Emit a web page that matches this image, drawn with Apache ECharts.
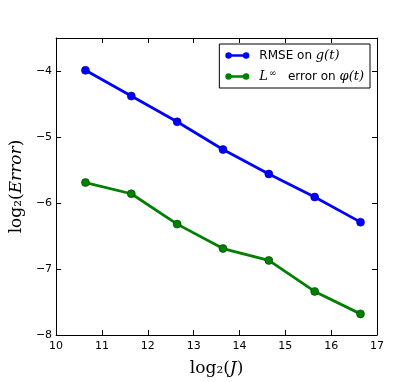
<!DOCTYPE html>
<html><head><meta charset="utf-8">
<script src="https://cdn.jsdelivr.net/npm/echarts@6/dist/echarts.min.js"></script>
<style>html,body{margin:0;padding:0;background:#fff}#c{width:418px;height:382px}</style>
</head><body><div id="c"></div>
<script>
const xValues = [10.64, 11.64, 12.64, 13.64, 14.64, 15.64, 16.64];
const rmseValues = [-3.99, -4.38, -4.77, -5.19, -5.56, -5.91, -6.29];
const linfValues = [-5.69, -5.86, -6.32, -6.69, -6.87, -7.34, -7.68];
const seriesNames = ['rmse', 'linf'];

const chart = echarts.init(document.getElementById('c'), null, {renderer: 'canvas'});
const sans = 'DejaVu Sans';
const serif = 'DejaVu Serif';
const fmtNum = v => (Math.abs(v - Math.round(v)) > 1e-9) ? '' : (v < 0 ? '\u2212' + Math.abs(v) : String(v));
const iconPath = 'path://M0,3.5A3.5,3.5 0 1,1 7,3.5A3.5,3.5 0 1,1 0,3.5Z M19,3.5A3.5,3.5 0 1,1 26,3.5A3.5,3.5 0 1,1 19,3.5Z M3,2.2L23,2.2L23,4.8L3,4.8Z';
const tickStyle = {show: true, inside: true, length: 5, lineStyle: {color: '#000', width: 1}};
const lineStyleAx = {show: true, lineStyle: {color: '#000', width: 1}};

chart.setOption({
  animation: false,
  backgroundColor: '#fff',
  grid: {left: 52, right: 41, top: 38, bottom: 39, containLabel: false},
  xAxis: [{
    type: 'value', min: 10, max: 17, interval: 1,
    axisLine: lineStyleAx, axisTick: tickStyle, splitLine: {show: false},
    axisLabel: {color: '#000', fontFamily: sans, fontSize: 11, margin: 6, formatter: fmtNum},
    name: 'log\u2082({i|J})', nameLocation: 'middle', nameGap: 25,
    nameTextStyle: {color: '#000', fontFamily: serif, fontSize: 17,
      rich: {i: {fontFamily: serif, fontStyle: 'italic', fontSize: 17, color: '#000'}}}
  }, {
    type: 'value', position: 'top', min: 10, max: 17, interval: 1,
    axisLine: lineStyleAx, axisTick: tickStyle, axisLabel: {show: false}, splitLine: {show: false}
  }],
  yAxis: [{
    type: 'value', min: -8, max: -3.5, interval: 1,
    axisLine: lineStyleAx, axisTick: tickStyle, splitLine: {show: false},
    axisLabel: {color: '#000', fontFamily: sans, fontSize: 11, margin: 4, formatter: fmtNum},
    name: 'log\u2082({i|Error})', nameLocation: 'middle', nameGap: 30, nameRotate: 90,
    nameTextStyle: {color: '#000', fontFamily: serif, fontSize: 17,
      rich: {i: {fontFamily: serif, fontStyle: 'italic', fontSize: 17, color: '#000'}}}
  }, {
    type: 'value', position: 'right', min: -8, max: -3.5, interval: 1,
    axisLine: lineStyleAx, axisTick: tickStyle, axisLabel: {show: false}, splitLine: {show: false}
  }],
  legend: {
    orient: 'vertical', right: 48, top: 44,
    backgroundColor: '#fff', borderColor: '#000', borderWidth: 1, borderRadius: 0,
    padding: [5, 6, 5, 6], itemGap: 7, itemWidth: 24, itemHeight: 7,
    data: [
      {name: seriesNames[0], icon: iconPath, itemStyle: {color: '#0000ff', borderWidth: 0}},
      {name: seriesNames[1], icon: iconPath, itemStyle: {color: '#008000', borderWidth: 0}}
    ],
    formatter: function (name) {
      if (name === 'rmse') return '{t|RMSE on }{m|g(t)}';
      return '{m|L}{sup|\u221E}{t|   error on }{m|\u03C6(t)}';
    },
    textStyle: {
      color: '#000', fontFamily: sans, fontSize: 12, padding: [0, 0, 0, 5],
      rich: {
        t: {fontFamily: sans, fontSize: 12, color: '#000'},
        m: {fontFamily: serif, fontStyle: 'italic', fontSize: 13, color: '#000'},
        sup: {fontFamily: serif, fontSize: 9, color: '#000', verticalAlign: 'top', padding: [0, 0, 6, 1]}
      }
    }
  },
  series: [{
    name: seriesNames[0], type: 'line', xAxisIndex: 0, yAxisIndex: 0,
    data: xValues.map((x, i) => [x, rmseValues[i]]),
    lineStyle: {color: '#0000ff', width: 2.8},
    itemStyle: {color: '#0000ff', borderColor: '#00008b', borderWidth: 0.6},
    symbol: 'circle', symbolSize: 8, showSymbol: true
  }, {
    name: seriesNames[1], type: 'line', xAxisIndex: 0, yAxisIndex: 0,
    data: xValues.map((x, i) => [x, linfValues[i]]),
    lineStyle: {color: '#008000', width: 2.8},
    itemStyle: {color: '#008000', borderColor: '#004000', borderWidth: 0.6},
    symbol: 'circle', symbolSize: 8, showSymbol: true
  }]
});
</script></body></html>
